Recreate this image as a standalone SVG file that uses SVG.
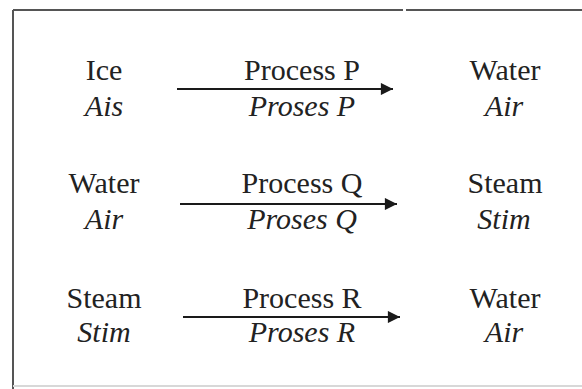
<svg xmlns="http://www.w3.org/2000/svg" width="582" height="389" viewBox="0 0 582 389">
<style>
  text { font-family: "Liberation Serif", "Times New Roman", serif; font-size: 30px; fill: #222; text-anchor: middle; }
  .it { font-style: italic; }
  .frame { stroke: #555; stroke-width: 2; fill: none; }
  .faint { stroke: #d8d8d8; stroke-width: 2; fill: none; }
  .conn { stroke: #1a1a1a; stroke-width: 2.2; fill: none; }
</style>
<defs>
  <marker id="ah" viewBox="0 0 10 10" refX="10" refY="5" markerWidth="6.5" markerHeight="5.5" markerUnits="strokeWidth" orient="auto">
    <path d="M0,0 L10,5 L0,10 Z" fill="#1a1a1a"/>
  </marker>
</defs>
<rect width="582" height="389" fill="#fff"/>
<g id="frame">
  <line class="frame" x1="13" y1="10" x2="13" y2="389"/>
  <line class="frame" x1="13" y1="10" x2="403" y2="10"/>
  <line class="frame" x1="406" y1="10" x2="582" y2="10"/>
  <line class="faint" x1="13" y1="386" x2="582" y2="386"/>
</g>
<g id="connectors">
  <line class="conn" x1="177" y1="89" x2="393" y2="89" marker-end="url(#ah)"/>
  <line class="conn" x1="180" y1="204" x2="397" y2="204" marker-end="url(#ah)"/>
  <line class="conn" x1="183" y1="317" x2="400" y2="317" marker-end="url(#ah)"/>
</g>
<g id="ice"><text x="104" y="80">Ice</text><text class="it" x="104" y="116">Ais</text></g>
<g id="process-p"><text x="302" y="80">Process P</text><text class="it" x="302" y="116">Proses P</text></g>
<g id="water1"><text x="505" y="80">Water</text><text class="it" x="504" y="116">Air</text></g>
<g id="water2"><text x="104" y="193">Water</text><text class="it" x="104" y="229">Air</text></g>
<g id="process-q"><text x="302" y="193">Process Q</text><text class="it" x="302" y="229">Proses Q</text></g>
<g id="steam1"><text x="505" y="193">Steam</text><text class="it" x="504" y="229">Stim</text></g>
<g id="steam2"><text x="104" y="308">Steam</text><text class="it" x="104" y="342">Stim</text></g>
<g id="process-r"><text x="302" y="308">Process R</text><text class="it" x="302" y="342">Proses R</text></g>
<g id="water3"><text x="505" y="308">Water</text><text class="it" x="504" y="342">Air</text></g>
</svg>
